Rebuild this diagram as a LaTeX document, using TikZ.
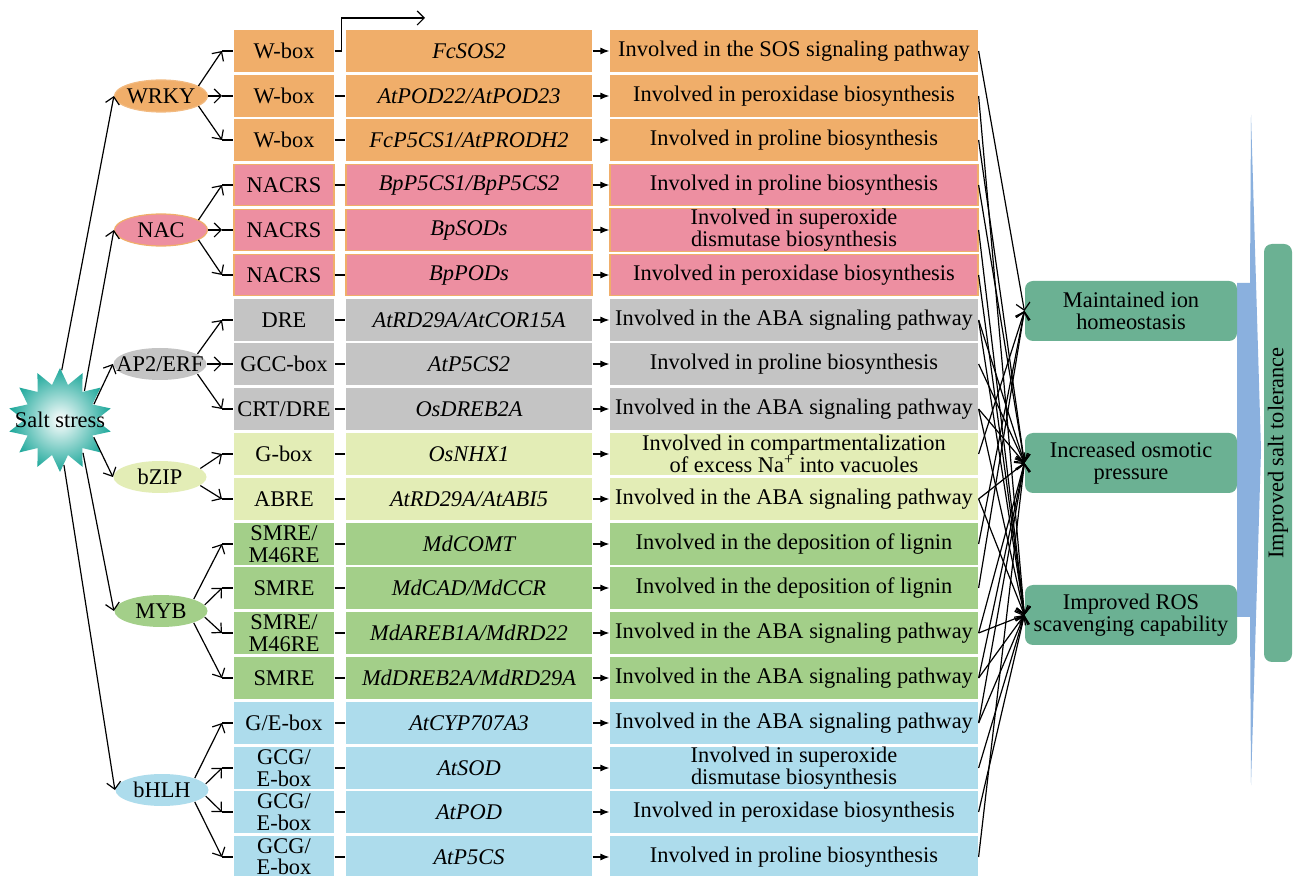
\documentclass[tikz,border=0pt]{standalone}
\usepackage{fontspec}
\setmainfont{Liberation Serif}
\usetikzlibrary{shapes.geometric,arrows.meta}

\definecolor{worange}{RGB}{240,174,106}
\definecolor{wpink}{RGB}{237,143,161}
\definecolor{wgray}{RGB}{196,196,196}
\definecolor{wlime}{RGB}{227,237,182}
\definecolor{wgreen}{RGB}{163,207,137}
\definecolor{wblue}{RGB}{173,220,236}
\definecolor{outgreen}{RGB}{107,177,147}
\definecolor{barblue}{RGB}{138,176,222}
\definecolor{saltteal}{RGB}{30,168,155}

\newcommand{\figfont}{\fontsize{11.2}{11}\selectfont}
\newcommand{\tfname}[1]{\makebox[0pt]{#1}}

\tikzset{
  rowbox/.style={minimum height=20.75pt, inner sep=0pt, align=center},
  elbox/.style={rowbox, minimum width=50pt},
  genebox/.style={rowbox, minimum width=123pt, font=\figfont\itshape},
  funcbox/.style={rowbox, minimum width=184pt},
  tfnode/.style={ellipse, minimum width=46.5pt, minimum height=16pt, inner sep=0pt},
  outbox/.style={fill=outgreen, rounded corners=4pt, minimum width=106pt, minimum height=30pt, inner sep=0pt, align=center},
  gf/.style={-{Latex[length=4.5pt,width=3.5pt]}}
}

\begin{document}
\begin{tikzpicture}[x=0.5pt, y=-0.5pt, font=\figfont, line width=0.6pt, >={Straight Barb[length=3.5pt,width=7pt]}]
\path[fill=white, use as bounding box] (0,0) rectangle (1296,876);

\node[elbox, fill=worange] (e1) at (284,51) {W-box};
\node[genebox, fill=worange] (g1) at (469,51) {FcSOS2};
\node[funcbox, fill=worange] (f1) at (794,51) {Involved in the SOS signaling pathway};
\node[elbox, fill=worange] (e2) at (284,96) {W-box};
\node[genebox, fill=worange] (g2) at (469,96) {AtPOD22/AtPOD23};
\node[funcbox, fill=worange] (f2) at (794,96) {Involved in peroxidase biosynthesis};
\node[elbox, fill=worange] (e3) at (284,140) {W-box};
\node[genebox, fill=worange] (g3) at (469,140) {FcP5CS1/AtPRODH2};
\node[funcbox, fill=worange] (f3) at (794,140) {Involved in proline biosynthesis};

\node[elbox, fill=wpink, draw=worange] (e4) at (284,185) {NACRS};
\node[genebox, fill=wpink, draw=worange] (g4) at (469,185) {BpP5CS1/BpP5CS2};
\node[funcbox, fill=wpink, draw=worange] (f4) at (794,185) {Involved in proline biosynthesis};
\node[elbox, fill=wpink, draw=worange] (e5) at (284,230) {NACRS};
\node[genebox, fill=wpink, draw=worange] (g5) at (469,230) {BpSODs};
\node[funcbox, fill=wpink, draw=worange] (f5) at (794,230) {Involved in superoxide\\dismutase biosynthesis};
\node[elbox, fill=wpink, draw=worange] (e6) at (284,275) {NACRS};
\node[genebox, fill=wpink, draw=worange] (g6) at (469,275) {BpPODs};
\node[funcbox, fill=wpink, draw=worange] (f6) at (794,275) {Involved in peroxidase biosynthesis};

\node[elbox, fill=wgray] (e7) at (284,320) {DRE};
\node[genebox, fill=wgray] (g7) at (469,320) {AtRD29A/AtCOR15A};
\node[funcbox, fill=wgray] (f7) at (794,320) {Involved in the ABA signaling pathway};
\node[elbox, fill=wgray] (e8) at (284,364) {GCC-box};
\node[genebox, fill=wgray] (g8) at (469,364) {AtP5CS2};
\node[funcbox, fill=wgray] (f8) at (794,364) {Involved in proline biosynthesis};
\node[elbox, fill=wgray] (e9) at (284,409) {CRT/DRE};
\node[genebox, fill=wgray] (g9) at (469,409) {OsDREB2A};
\node[funcbox, fill=wgray] (f9) at (794,409) {Involved in the ABA signaling pathway};

\node[elbox, fill=wlime] (e10) at (284,454) {G-box};
\node[genebox, fill=wlime] (g10) at (469,454) {OsNHX1};
\node[funcbox, fill=wlime] (f10) at (794,454) {Involved in compartmentalization\\of excess Na\textsuperscript{+} into vacuoles};
\node[elbox, fill=wlime] (e11) at (284,499) {ABRE};
\node[genebox, fill=wlime] (g11) at (469,499) {AtRD29A/AtABI5};
\node[funcbox, fill=wlime] (f11) at (794,499) {Involved in the ABA signaling pathway};

\node[elbox, fill=wgreen] (e12) at (284,544) {SMRE/\\M46RE};
\node[genebox, fill=wgreen] (g12) at (469,544) {MdCOMT};
\node[funcbox, fill=wgreen] (f12) at (794,544) {Involved in the deposition of lignin};
\node[elbox, fill=wgreen] (e13) at (284,588) {SMRE};
\node[genebox, fill=wgreen] (g13) at (469,588) {MdCAD/MdCCR};
\node[funcbox, fill=wgreen] (f13) at (794,588) {Involved in the deposition of lignin};
\node[elbox, fill=wgreen] (e14) at (284,633) {SMRE/\\M46RE};
\node[genebox, fill=wgreen] (g14) at (469,633) {MdAREB1A/MdRD22};
\node[funcbox, fill=wgreen] (f14) at (794,633) {Involved in the ABA signaling pathway};
\node[elbox, fill=wgreen] (e15) at (284,678) {SMRE};
\node[genebox, fill=wgreen] (g15) at (469,678) {MdDREB2A/MdRD29A};
\node[funcbox, fill=wgreen] (f15) at (794,678) {Involved in the ABA signaling pathway};

\node[elbox, fill=wblue] (e16) at (284,723) {G/E-box};
\node[genebox, fill=wblue] (g16) at (469,723) {AtCYP707A3};
\node[funcbox, fill=wblue] (f16) at (794,723) {Involved in the ABA signaling pathway};
\node[elbox, fill=wblue] (e17) at (284,768) {GCG/\\E-box};
\node[genebox, fill=wblue] (g17) at (469,768) {AtSOD};
\node[funcbox, fill=wblue] (f17) at (794,768) {Involved in superoxide\\dismutase biosynthesis};
\node[elbox, fill=wblue] (e18) at (284,812) {GCG/\\E-box};
\node[genebox, fill=wblue] (g18) at (469,812) {AtPOD};
\node[funcbox, fill=wblue] (f18) at (794,812) {Involved in peroxidase biosynthesis};
\node[elbox, fill=wblue] (e19) at (284,857) {\raisebox{2pt}{GCG/}\\[-2.5pt]E-box};
\node[genebox, fill=wblue] (g19) at (469,857) {AtP5CS};
\node[funcbox, fill=wblue] (f19) at (794,857) {Involved in proline biosynthesis};

\node[star, star points=14, star point ratio=1.45, minimum size=52pt, inner sep=0pt, inner color=white, outer color=saltteal] (salt) at (60,420) {};
\node (salttext) at (salt) {Salt stress};

\node[tfnode, fill=worange, draw=worange!85!white] (wrky) at (161,96) {\tfname{WRKY}};
\node[tfnode, fill=wpink, draw=worange] (nac) at (161,230) {\tfname{NAC}};
\node[tfnode, fill=wgray] (ap2) at (160,364) {\tfname{AP2/ERF}};
\node[tfnode, fill=wlime] (bzip) at (160,477) {\tfname{bZIP}};
\node[tfnode, fill=wgreen] (myb) at (161,611) {\tfname{MYB}};
\node[tfnode, fill=wblue] (bhlh) at (162,790) {\tfname{bHLH}};

\fill[barblue] (1251,115) -- (1261,450) -- (1251,785) -- (1250,617) -- (1237,617) -- (1237,283) -- (1250,283) -- cycle;
\node[outbox] (ion) at (1131,311) {Maintained ion\\homeostasis};
\node[outbox] (osm) at (1131,463) {Increased osmotic\\pressure};
\node[outbox] (ros) at (1131,615) {Improved ROS\\scavenging capability};
\node[outbox, rotate=90, minimum width=209pt, minimum height=14pt] (tol) at (1278,453) {Improved salt tolerance};

\draw[->] (salt.88) -- (wrky.west);
\draw[->] (salt.50) -- (nac.west);
\draw[->] (salt.25) -- (ap2.west);
\draw[->] (salt.-27) -- (bzip.west);
\draw[->] (salt.-55) -- (myb.west);
\draw[->] (salt.-85) -- (bhlh.west);

\foreach \i/\y in {1/51,2/96,3/140,4/185,5/230,6/275,7/320,8/364,9/409,10/454,11/499,12/544,13/588,14/633,15/678,16/723,17/768,18/812,19/857}
  \coordinate (a\i) at (222,\y);

\draw[->] (wrky.15) -- (a1);
\draw[->] (wrky.east) -- (a2);
\draw[->] (wrky.-15) -- (a3);
\draw[->] (nac.15) -- (a4);
\draw[->] (nac.east) -- (a5);
\draw[->] (nac.-15) -- (a6);
\draw[->] (ap2.15) -- (a7);
\draw[->] (ap2.east) -- (a8);
\draw[->] (ap2.-15) -- (a9);
\draw[->] (bzip.12) -- (a10);
\draw[->] (bzip.-12) -- (a11);
\draw[->] (myb.20) -- (a12);
\draw[->] (myb.8) -- (a13);
\draw[->] (myb.-8) -- (a14);
\draw[->] (myb.-20) -- (a15);
\draw[->] (bhlh.20) -- (a16);
\draw[->] (bhlh.8) -- (a17);
\draw[->] (bhlh.-8) -- (a18);
\draw[->] (bhlh.-20) -- (a19);

\foreach \i in {1,...,19} \draw (a\i) -- (e\i);
\coordinate (tss) at (425,18);
\draw[->] (e1.east) -- ++(7,0) |- (tss);
\foreach \i in {2,...,19} \draw (e\i) -- (g\i);
\foreach \i in {1,...,19} \draw[gf] (g\i) -- (f\i);

\foreach \i in {1,10,12,13} \draw[->] (f\i.east) -- (ion.west);
\foreach \i in {3,4,7,8,9,11,14,15,16,19} \draw[->] (f\i.east) -- (osm.west);
\foreach \i in {2,5,6,7,9,11,14,15,16,17,18} \draw[->] (f\i.east) -- (ros.west);
\end{tikzpicture}
\end{document}
